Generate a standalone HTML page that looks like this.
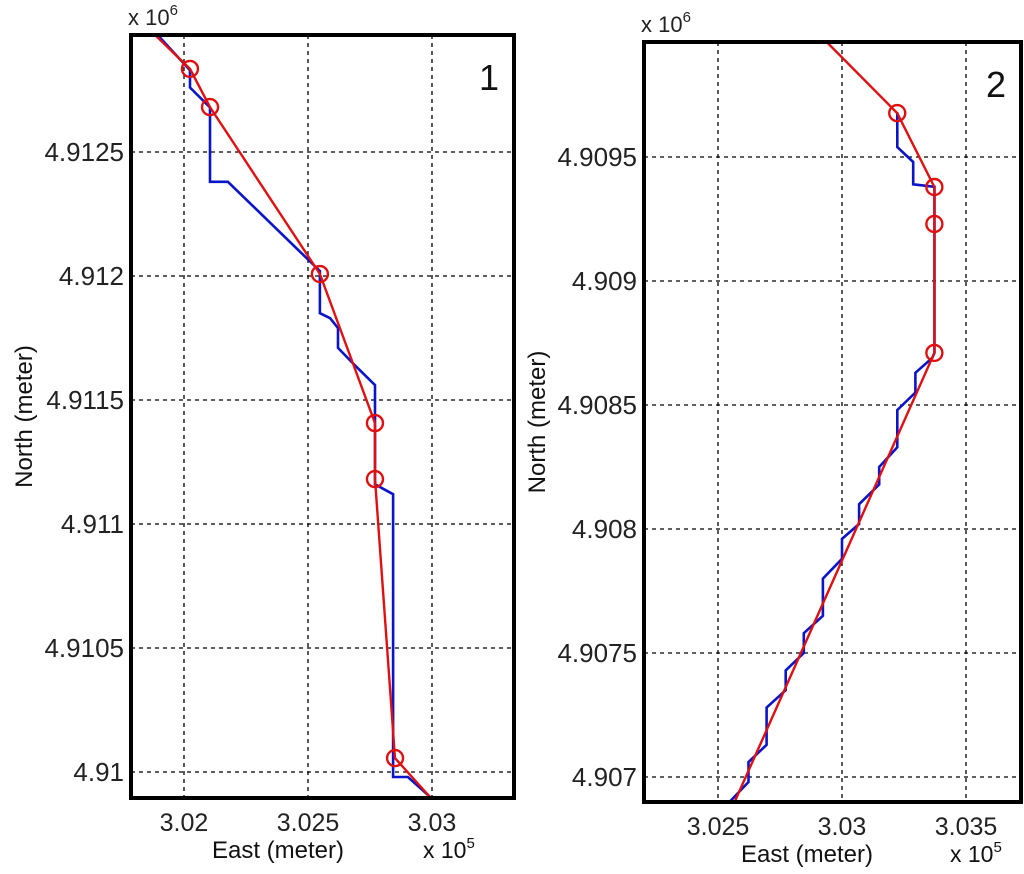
<!DOCTYPE html>
<html><head><meta charset="utf-8"><style>
html,body{margin:0;padding:0;background:#fff;}
svg{display:block;font-family:"Liberation Sans",Arial,sans-serif;}
</style></head><body>
<svg id="chart" width="1024" height="874" viewBox="0 0 1024 874" xmlns="http://www.w3.org/2000/svg"></svg>
<script>
// ---- Panel 1 data (East in 1e5 m, North in 1e6 m) ----
const p1XTicks = [3.02, 3.025, 3.03];
const p1XTickLabels = ["3.02", "3.025", "3.03"];
const p1YTicks = [4.9125, 4.912, 4.9115, 4.911, 4.9105, 4.91];
const p1YTickLabels = ["4.9125", "4.912", "4.9115", "4.911", "4.9105", "4.91"];
const p1BlueE = [3.01895,3.02024,3.02024,3.02105,3.02105,3.02177,3.02548,3.02548,3.02589,3.02621,3.02621,3.02689,3.02770,3.02770,3.02843,3.02843,3.02903,3.02992];
const p1BlueN = [4.91297,4.91283,4.91276,4.91268,4.91238,4.91238,4.91202,4.91185,4.91183,4.91179,4.91171,4.91164,4.91156,4.91116,4.91112,4.90998,4.90998,4.90990];
const p1RedE = [3.01883,3.02024,3.02105,3.02548,3.0277,3.0277,3.02851,3.02992];
const p1RedN = [4.912972,4.912835,4.912681,4.912008,4.911407,4.911181,4.910056,4.909899];
const p1MarkE = [3.02024,3.02105,3.02548,3.0277,3.0277,3.02851];
const p1MarkN = [4.912835,4.912681,4.912008,4.911407,4.911181,4.910056];

// ---- Panel 2 data ----
const p2XTicks = [3.025, 3.03, 3.035];
const p2XTickLabels = ["3.025", "3.03", "3.035"];
const p2YTicks = [4.9095, 4.909, 4.9085, 4.908, 4.9075, 4.907];
const p2YTickLabels = ["4.9095", "4.909", "4.9085", "4.908", "4.9075", "4.907"];
const p2BlueE = [3.03223,3.03223,3.03287,3.03287,3.03373,3.03373,3.03364,3.03296,3.03296,3.03223,3.03223,3.03150,3.03150,3.03069,3.03069,3.03000,3.03000,3.02923,3.02923,3.02846,3.02846,3.02773,3.02773,3.02696,3.02696,3.02623,3.02623,3.02547];
const p2BlueN = [4.90968,4.90954,4.90948,4.90939,4.90938,4.90871,4.90869,4.90863,4.90855,4.90848,4.90833,4.90825,4.90818,4.90810,4.90802,4.90796,4.90788,4.90780,4.90765,4.90758,4.90750,4.90743,4.90735,4.90728,4.90713,4.90706,4.90698,4.90690];
const p2RedE = [3.02940,3.032227,3.033725,3.033725,3.033725,3.025668];
const p2RedN = [4.909962,4.909677,4.909379,4.909230,4.908710,4.906899];
const p2MarkE = [3.032227,3.033725,3.033725,3.033725];
const p2MarkN = [4.909677,4.909379,4.909230,4.908710];

const NS = "http://www.w3.org/2000/svg";
const svg = document.getElementById("chart");
function mk(tag, attrs, parent){
  const e = document.createElementNS(NS, tag);
  for (const k in attrs) e.setAttribute(k, attrs[k]);
  (parent||svg).appendChild(e);
  return e;
}
function linear(d0,d1,r0,r1){ return v => r0 + (v-d0)/(d1-d0)*(r1-r0); }

function panel(cfg){
  const g = mk("g", {});
  
  
  const sx = linear(cfg.xt0, cfg.xt1, cfg.xp0, cfg.xp1);
  const sy = linear(cfg.yt0, cfg.yt1, cfg.yp0, cfg.yp1);
  const L=cfg.left, R=cfg.right, T=cfg.top, B=cfg.bottom;
  const clipId = cfg.name + "-clip";
  const defs = mk("defs", {}, g);
  const cp = mk("clipPath", {id: clipId}, defs);
  mk("rect", {x:L, y:T, width:R-L, height:B-T}, cp);
  // grid
  cfg.xTicks.forEach((t,i) => {
    const x = sx(t);
    const gl = mk("line", {x1:x, x2:x, y1:T, y2:B, stroke:"#000", "stroke-width":1.3, "stroke-dasharray":"4,4"}, g);
    
    
    const tl = mk("text", {x:x, y:B+33, "text-anchor":"middle", "font-size":25, fill:"#222"}, g);
    
    
    tl.textContent = cfg.xLabels[i];
  });
  cfg.yTicks.forEach((t,i) => {
    const y = sy(t);
    const gl = mk("line", {x1:L, x2:R, y1:y, y2:y, stroke:"#000", "stroke-width":1.3, "stroke-dasharray":"4,4"}, g);
    
    
    const tl = mk("text", {x:L-7, y:y+9, "text-anchor":"end", "font-size":26, fill:"#222"}, g);
    
    
    tl.textContent = cfg.yLabels[i];
  });
  const data = mk("g", {"clip-path":"url(#"+clipId+")"}, g);
  const bp = cfg.blueE.map((e,i)=>sx(e).toFixed(1)+","+sy(cfg.blueN[i]).toFixed(1)).join(" ");
  const blue = mk("polyline", {points:bp, fill:"none", stroke:"#0a14c8", "stroke-width":2.6, "stroke-linejoin":"miter"}, data);
  
  
  const rp = cfg.redE.map((e,i)=>sx(e).toFixed(1)+","+sy(cfg.redN[i]).toFixed(1)).join(" ");
  const red = mk("polyline", {points:rp, fill:"none", stroke:"#e01010", "stroke-width":2.4}, data);
  
  
  cfg.markE.forEach((e,i)=>{
    const c = mk("circle", {cx:sx(e), cy:sy(cfg.markN[i]), r:8, fill:"none", stroke:"#e01010", "stroke-width":2.4}, data);
    
    
  });
  const box = mk("rect", {x:L, y:T, width:R-L, height:B-T, fill:"none", stroke:"#000", "stroke-width":4}, g);
  
  
  const num = mk("text", {x:R-15, y:T+55, "text-anchor":"end", "font-size":36, fill:"#111"}, g);
  
  
  num.textContent = cfg.label;
  const ym = mk("text", {x:L-3, y:T-10, "font-size":22, fill:"#222"}, g);
  
  
  ym.innerHTML = 'x 10<tspan dy="-10" font-size="15">6</tspan>';
  const xt = mk("text", {x:cfg.xTitleX, y:B+60, "text-anchor":"middle", "font-size":24, fill:"#111"}, g);
  
  
  xt.textContent = "East (meter)";
  const xm = mk("text", {x:cfg.xExpX, y:B+60, "font-size":23, fill:"#111"}, g);
  
  
  xm.innerHTML = 'x 10<tspan dy="-10" font-size="15">5</tspan>';
  const yt = mk("text", {x:0, y:0, "text-anchor":"middle", "font-size":24, fill:"#111", transform:"translate("+cfg.yTitleX+","+((T+B)/2)+") rotate(-90)"}, g);
  
  
  yt.textContent = "North (meter)";
}

panel({name:"panel-1", label:"1", left:131, right:514, top:35, bottom:798,
  xt0:3.02, xt1:3.03, xp0:184, xp1:432, yt0:4.912, yt1:4.911, yp0:276, yp1:524,
  xTicks:p1XTicks, xLabels:p1XTickLabels, yTicks:p1YTicks, yLabels:p1YTickLabels,
  blueE:p1BlueE, blueN:p1BlueN, redE:p1RedE, redN:p1RedN, markE:p1MarkE, markN:p1MarkN,
  xTitleX:278, xExpX:423, yTitleX:32});
panel({name:"panel-2", label:"2", left:644, right:1021, top:42, bottom:802,
  xt0:3.025, xt1:3.035, xp0:718, xp1:966, yt0:4.9095, yt1:4.907, yp0:157, yp1:777,
  xTicks:p2XTicks, xLabels:p2XTickLabels, yTicks:p2YTicks, yLabels:p2YTickLabels,
  blueE:p2BlueE, blueN:p2BlueN, redE:p2RedE, redN:p2RedN, markE:p2MarkE, markN:p2MarkN,
  xTitleX:807, xExpX:950, yTitleX:545});
</script>
</body></html>
